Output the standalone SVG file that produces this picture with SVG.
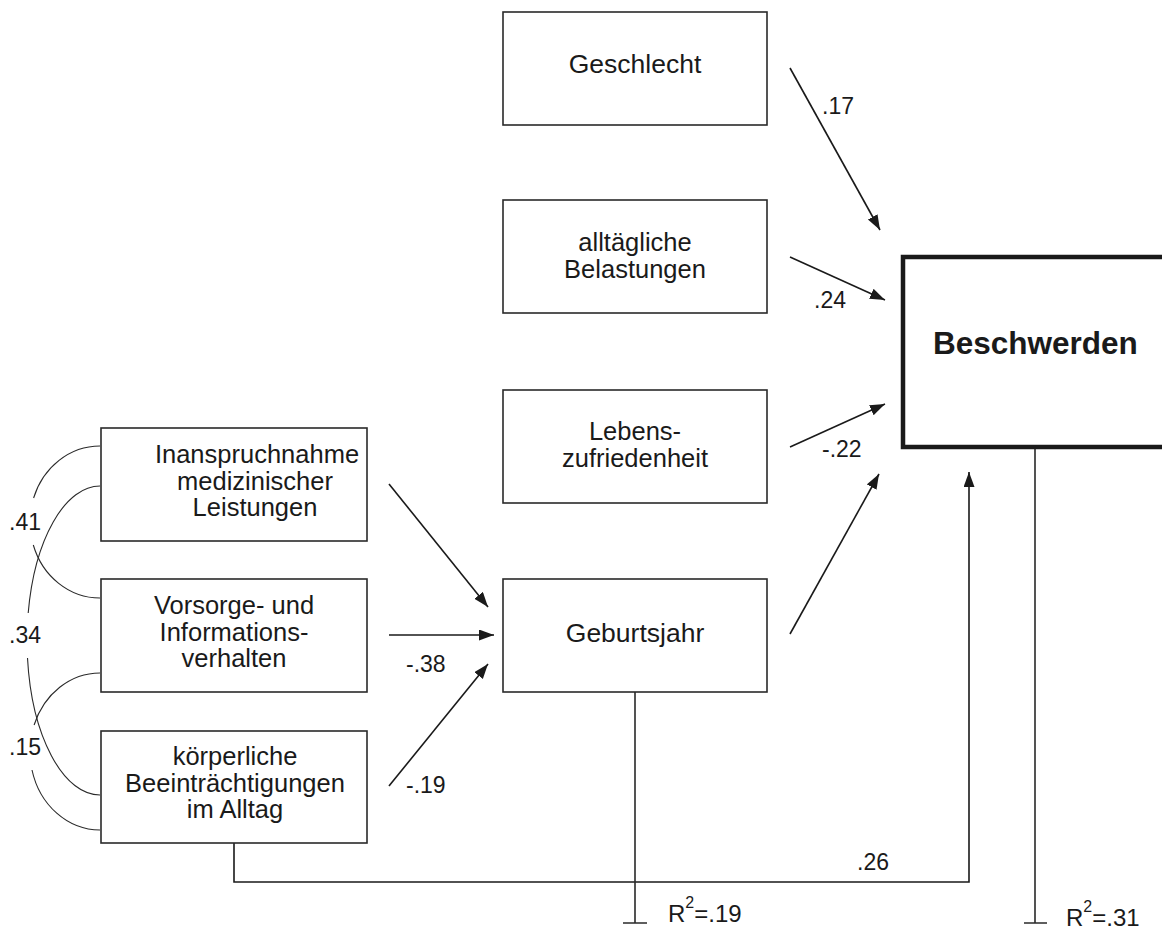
<svg xmlns="http://www.w3.org/2000/svg" width="1162" height="936" viewBox="0 0 1162 936">
<style>
  .box{fill:#fff;stroke:#2a2a2a;stroke-width:1.6}
  .bold{fill:#fff;stroke:#1a1a1a;stroke-width:4.5}
  .t{font-family:"Liberation Sans",Arial,sans-serif;font-size:25.5px;fill:#1a1a1a;text-anchor:middle}
  .lbl{font-family:"Liberation Sans",Arial,sans-serif;font-size:23px;fill:#1a1a1a}
  .ln{fill:none;stroke:#2a2a2a;stroke-width:1.6}
  .cv{fill:none;stroke:#2a2a2a;stroke-width:1.1}
  .ar{fill:none;stroke:#1a1a1a;stroke-width:1.6;marker-end:url(#ah)}
</style>
<defs>
  <marker id="ah" markerUnits="userSpaceOnUse" markerWidth="16" markerHeight="12" refX="15" refY="5.5" orient="auto">
    <path d="M0,0 L15,5.5 L0,11 z" fill="#1a1a1a"/>
  </marker>
</defs>
<rect width="1162" height="936" fill="#fff"/>

<g id="connectors">
  <path class="cv" d="M100,446 A70,76 0 0 0 33.6,498"/>
  <path class="cv" d="M33.3,545 A70,76 0 0 0 100,598"/>
  <path class="cv" d="M100,486 A73,154.5 0 0 0 28.2,613"/>
  <path class="cv" d="M27.5,658 A73,154.5 0 0 0 100,795"/>
  <path class="cv" d="M100,673 A70,78.5 0 0 0 34.1,725"/>
  <path class="cv" d="M32,770 A70,78.5 0 0 0 100,830"/>
  <line class="ar" x1="389" y1="484" x2="488" y2="607"/>
  <line class="ar" x1="389" y1="635" x2="494" y2="635"/>
  <line class="ar" x1="389" y1="786" x2="488" y2="664"/>
  <line class="ar" x1="790" y1="68" x2="880" y2="230"/>
  <line class="ar" x1="790" y1="257" x2="885" y2="300"/>
  <line class="ar" x1="790" y1="447" x2="885" y2="404"/>
  <line class="ar" x1="790" y1="634" x2="879" y2="474"/>
  <path class="ar" d="M234,843 V882 H969 V472"/>
  <path class="ln" d="M635,692 V923 M623,923 H647"/>
  <path class="ln" d="M1035,449 V923 M1024,923 H1047"/>
  <text class="lbl" x="9" y="530">.41</text>
  <text class="lbl" x="9" y="643">.34</text>
  <text class="lbl" x="9" y="755">.15</text>
  <text class="lbl" x="406" y="672">-.38</text>
  <text class="lbl" x="406" y="793">-.19</text>
  <text class="lbl" x="822" y="114">.17</text>
  <text class="lbl" x="814" y="308">.24</text>
  <text class="lbl" x="822" y="457">-.22</text>
  <text class="lbl" x="857" y="870">.26</text>
  <text class="lbl" x="668" y="922" style="font-size:24px">R<tspan dy="-14" style="font-size:16px">2</tspan><tspan dy="14">=.19</tspan></text>
  <text class="lbl" x="1066" y="926" style="font-size:24px">R<tspan dy="-14" style="font-size:16px">2</tspan><tspan dy="14">=.31</tspan></text>
</g>

<g id="n_inanspruchnahme">
  <rect class="box" x="101" y="428" width="266" height="113"/>
  <text class="t" x="257" y="463">Inanspruchnahme</text>
  <text class="t" x="255" y="489.5">medizinischer</text>
  <text class="t" x="255" y="516">Leistungen</text>
</g>
<g id="n_vorsorge">
  <rect class="box" x="101" y="579" width="266" height="113"/>
  <text class="t" x="234" y="614">Vorsorge- und</text>
  <text class="t" x="234" y="640.5">Informations-</text>
  <text class="t" x="234" y="667">verhalten</text>
</g>
<g id="n_koerper">
  <rect class="box" x="101" y="731" width="266" height="112"/>
  <text class="t" x="235" y="765">körperliche</text>
  <text class="t" x="235" y="791.5">Beeinträchtigungen</text>
  <text class="t" x="235" y="818">im Alltag</text>
</g>
<g id="n_geschlecht">
  <rect class="box" x="503" y="12" width="264" height="113"/>
  <text class="t" x="635" y="73" style="font-size:26.5px">Geschlecht</text>
</g>
<g id="n_belastungen">
  <rect class="box" x="503" y="200" width="264" height="113"/>
  <text class="t" x="635" y="251">alltägliche</text>
  <text class="t" x="635" y="277.5">Belastungen</text>
</g>
<g id="n_lebenszufriedenheit">
  <rect class="box" x="503" y="390" width="264" height="113"/>
  <text class="t" x="635" y="440">Lebens-</text>
  <text class="t" x="635" y="466.5">zufriedenheit</text>
</g>
<g id="n_geburtsjahr">
  <rect class="box" x="503" y="579" width="264" height="113"/>
  <text class="t" x="635" y="642" style="font-size:26.5px">Geburtsjahr</text>
</g>
<g id="n_beschwerden">
  <rect class="bold" x="903" y="257" width="300" height="190"/>
  <text x="933" y="354" style="font-family:'Liberation Sans',Arial,sans-serif;font-size:31.5px;font-weight:bold;fill:#1a1a1a">Beschwerden</text>
</g>
</svg>
